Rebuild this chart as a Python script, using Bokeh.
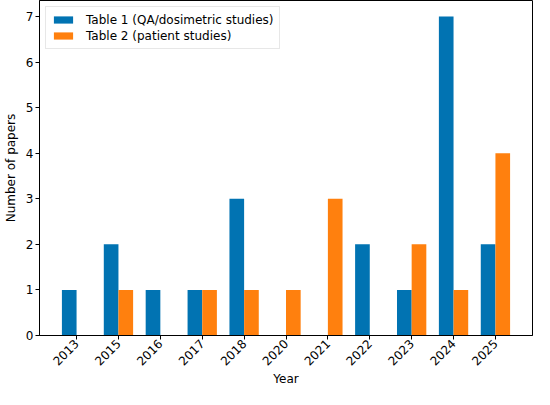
import math
from bokeh.plotting import figure
from bokeh.models import ColumnDataSource, FactorRange, Range1d, FixedTicker, Legend, LegendItem
from bokeh.transform import dodge
from bokeh.embed import file_html
from bokeh.resources import INLINE

years = ["2013", "2015", "2016", "2017", "2018", "2020", "2021", "2022", "2023", "2024", "2025"]
table1 = [1, 2, 1, 1, 3, 0, 0, 2, 1, 7, 2]
table2 = [0, 1, 0, 1, 1, 1, 3, 0, 2, 1, 4]
y_ticks = [0, 1, 2, 3, 4, 5, 6, 7]

BLUE = "#0173B2"
ORANGE = "#FF800E"
FONT = "DejaVu Sans"

src = ColumnDataSource(dict(year=years, t1=table1, t2=table2))

p = figure(
    width=534, height=389,
    x_range=FactorRange(factors=years, range_padding=0.385, range_padding_units="absolute"),
    y_range=Range1d(0, 7.35),
    output_backend="svg", toolbar_location=None,
    min_border_left=0, min_border_right=2, min_border_top=0, min_border_bottom=0,
)

r1 = p.vbar(x=dodge("year", -0.175, range=p.x_range), top="t1", width=0.35,
            source=src, fill_color=BLUE, line_color=None)
r2 = p.vbar(x=dodge("year", 0.175, range=p.x_range), top="t2", width=0.35,
            source=src, fill_color=ORANGE, line_color=None)

p.xgrid.visible = False
p.ygrid.visible = False
p.outline_line_color = "black"
p.outline_line_width = 1
p.outline_line_alpha = 1

p.yaxis.ticker = FixedTicker(ticks=y_ticks)
p.yaxis.minor_tick_line_color = None

for ax in (p.xaxis[0], p.yaxis[0]):
    ax.major_tick_out = 4
    ax.major_tick_in = 0
    ax.major_tick_line_color = "black"
    ax.axis_line_color = "black"
    ax.major_label_text_font = FONT
    ax.major_label_text_font_size = "12px"
    ax.major_label_text_color = "black"
    ax.axis_label_text_font = FONT
    ax.axis_label_text_font_size = "12px"
    ax.axis_label_text_font_style = "normal"
    ax.axis_label_text_color = "black"
    ax.major_label_standoff = 2

p.xaxis.axis_label = "Year"
p.yaxis.axis_label = "Number of papers"
p.xaxis.major_label_orientation = math.pi / 4
p.xaxis.axis_label_standoff = 0
p.yaxis.axis_label_standoff = 5

legend = Legend(items=[
    LegendItem(label="Table 1 (QA/dosimetric studies)", renderers=[r1]),
    LegendItem(label="Table 2 (patient studies)", renderers=[r2]),
], location="top_left")
legend.label_text_font = FONT
legend.label_text_font_size = "12px"
legend.label_text_color = "black"
legend.glyph_width = 24
legend.glyph_height = 9
legend.spacing = 1
legend.padding = 5
legend.margin = 6
legend.label_standoff = 11
legend.label_height = 15
legend.border_line_color = "#d0d0d0"
legend.border_line_width = 1
legend.background_fill_alpha = 0.8
p.add_layout(legend)

open("out.html", "w").write(file_html(p, INLINE))
